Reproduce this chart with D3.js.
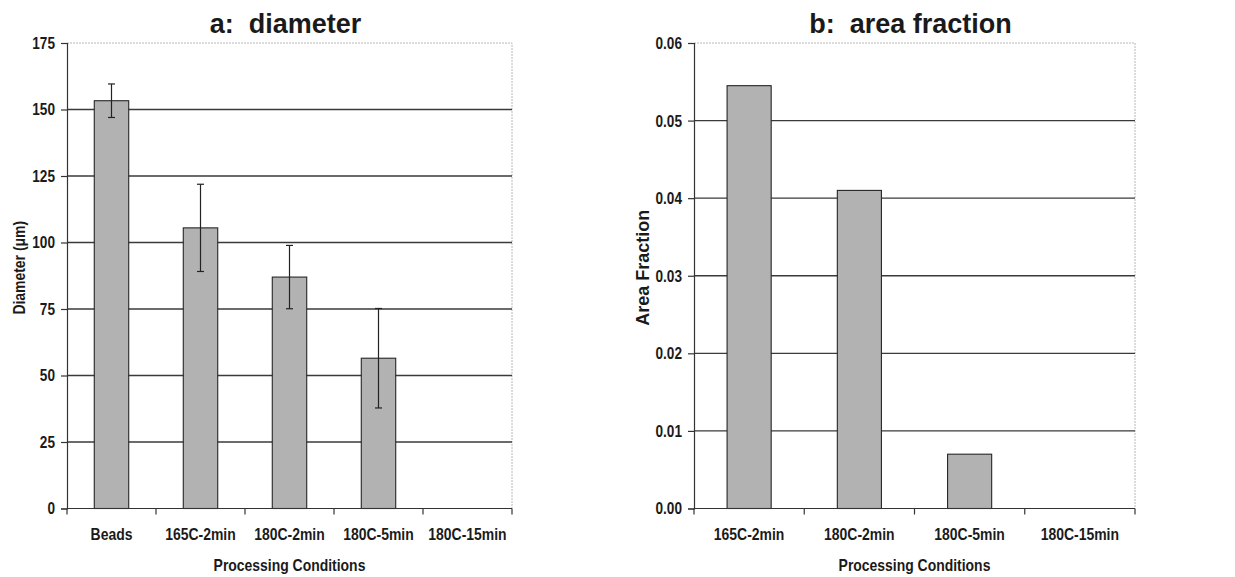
<!DOCTYPE html>
<html>
<head>
<meta charset="utf-8">
<script src="https://cdn.jsdelivr.net/npm/d3@7"></script>
<style>
  html, body { margin: 0; padding: 0; background: #ffffff; }
  svg { display: block; }
  .lab { font-family: "Liberation Sans", Arial, sans-serif; font-weight: bold; fill: #1a1a1a; }
  .title { font-family: "Liberation Sans", Arial, sans-serif; font-weight: bold; fill: #1a1a1a; white-space: pre; }
</style>
</head>
<body>
<svg id="chart" width="1235" height="577"></svg>
<script>
// Panel a: mean diameter per processing condition (with standard deviation)
const diameterCategories = ["Beads", "165C-2min", "180C-2min", "180C-5min", "180C-15min"];
const diameterMeans = [153.3, 105.5, 87.0, 56.5, 0];
const diameterErrors = [6.3, 16.4, 11.9, 18.7, 0];
const diameterTicks = [0, 25, 50, 75, 100, 125, 150, 175];

// Panel b: area fraction per processing condition
const areaCategories = ["165C-2min", "180C-2min", "180C-5min", "180C-15min"];
const areaFractions = [0.0545, 0.041, 0.007, 0];
const areaTicks = [0, 0.01, 0.02, 0.03, 0.04, 0.05, 0.06];

const svg = d3.select("#chart");

// squeeze text horizontally to mimic a condensed bold face
function condense(sel, factor) {
  sel.each(function () {
    const len = this.getComputedTextLength();
    d3.select(this)
      .attr("textLength", len * factor)
      .attr("lengthAdjust", "spacingAndGlyphs");
  });
}

function drawPanel(opts) {
  const { left, right, top, bottom, categories, values, errors, ticks, yMax,
          tickFormat, title, yLabel, barRatio, yLabelX, yLabelSize, yLabelSqueeze, titleDx } = opts;

  const g = svg.append("g");
  const x = d3.scaleBand().domain(categories).range([left, right]).padding(0);
  const y = d3.scaleLinear().domain([0, yMax]).range([bottom, top]);

  // light frame on top and right of the plot area
  g.append("path")
    .attr("d", `M${left},${top}H${right}V${bottom}`)
    .attr("fill", "none")
    .attr("stroke", "#b8b8b8")
    .attr("stroke-width", 1)
    .attr("stroke-dasharray", "2,1");

  // horizontal gridlines
  g.append("g")
    .selectAll("line")
    .data(ticks.filter(t => t > 0 && t < yMax))
    .join("line")
    .attr("x1", left).attr("x2", right)
    .attr("y1", d => y(d)).attr("y2", d => y(d))
    .attr("stroke", "#3a3a3a")
    .attr("stroke-width", 1.3);

  // bars
  const bw = x.bandwidth() * barRatio;
  g.append("g")
    .selectAll("rect")
    .data(categories.map((c, i) => ({ c, v: values[i] })).filter(d => d.v > 0))
    .join("rect")
    .attr("x", d => x(d.c) + (x.bandwidth() - bw) / 2)
    .attr("width", bw)
    .attr("y", d => y(d.v))
    .attr("height", d => y(0) - y(d.v))
    .attr("fill", "#b2b2b2")
    .attr("stroke", "#262626")
    .attr("stroke-width", 1.1);

  // error bars
  if (errors) {
    const eb = g.append("g")
      .selectAll("g")
      .data(categories.map((c, i) => ({ c, v: values[i], e: errors[i] })).filter(d => d.e > 0))
      .join("g")
      .attr("stroke", "#222")
      .attr("stroke-width", 1.2);
    eb.append("line")
      .attr("x1", d => x(d.c) + x.bandwidth() / 2)
      .attr("x2", d => x(d.c) + x.bandwidth() / 2)
      .attr("y1", d => y(d.v + d.e))
      .attr("y2", d => y(d.v - d.e));
    [1, -1].forEach(s => {
      eb.append("line")
        .attr("x1", d => x(d.c) + x.bandwidth() / 2 - 3.5)
        .attr("x2", d => x(d.c) + x.bandwidth() / 2 + 3.5)
        .attr("y1", d => y(d.v + s * d.e))
        .attr("y2", d => y(d.v + s * d.e));
    });
  }

  // y axis
  const yAxis = d3.axisLeft(y).tickValues(ticks).tickFormat(tickFormat).tickSize(6).tickPadding(6);
  const ya = g.append("g").attr("transform", `translate(${left},0)`).call(yAxis);
  ya.attr("font-family", null).attr("font-size", null);
  ya.select(".domain").attr("stroke", "#333").attr("stroke-width", 1.2);
  ya.selectAll(".tick line").attr("stroke", "#333").attr("stroke-width", 1.2);
  ya.selectAll(".tick text")
    .attr("class", "lab")
    .style("font-size", "17px")
    .call(condense, 0.8);

  // x axis with ticks between categories
  const xa = g.append("g").attr("transform", `translate(0,${bottom})`);
  xa.append("line")
    .attr("x1", left).attr("x2", right)
    .attr("stroke", "#333").attr("stroke-width", 1.2);
  const bounds = categories.map(c => x(c)).concat([right]);
  xa.selectAll("line.tk")
    .data(bounds)
    .join("line")
    .attr("class", "tk")
    .attr("x1", d => d).attr("x2", d => d)
    .attr("y1", 0).attr("y2", 6)
    .attr("stroke", "#333").attr("stroke-width", 1.2);
  xa.selectAll("text.cat")
    .data(categories)
    .join("text")
    .attr("class", "lab cat")
    .attr("x", d => x(d) + x.bandwidth() / 2)
    .attr("y", 31)
    .attr("text-anchor", "middle")
    .style("font-size", "17px")
    .text(d => d)
    .call(condense, 0.82);

  // x axis title
  g.append("text")
    .attr("class", "lab")
    .attr("x", (left + right) / 2)
    .attr("y", bottom + 62)
    .attr("text-anchor", "middle")
    .style("font-size", "17px")
    .text("Processing Conditions")
    .call(condense, 0.82);

  // y axis title
  g.append("text")
    .attr("class", "lab")
    .attr("transform", `translate(${yLabelX},${(top + bottom) / 2 - 8}) rotate(-90)`)
    .attr("text-anchor", "middle")
    .attr("dy", "0.35em")
    .style("font-size", yLabelSize)
    .text(yLabel)
    .call(condense, yLabelSqueeze);

  // panel title
  g.append("text")
    .attr("class", "title")
    .attr("x", (left + right) / 2 + titleDx)
    .attr("y", 33)
    .attr("text-anchor", "middle")
    .style("font-size", "27px")
    .text(title);
}

drawPanel({
  left: 67, right: 512, top: 43, bottom: 508.5,
  categories: diameterCategories, values: diameterMeans, errors: diameterErrors,
  ticks: diameterTicks, yMax: 175, tickFormat: d3.format("d"),
  title: "a:  diameter", yLabel: "Diameter (\u03bcm)", barRatio: 0.387,
  yLabelX: 19, yLabelSize: "17px", yLabelSqueeze: 0.82, titleDx: -4
});

drawPanel({
  left: 694, right: 1135, top: 43, bottom: 508.5,
  categories: areaCategories, values: areaFractions, errors: null,
  ticks: areaTicks, yMax: 0.06, tickFormat: d3.format(".2f"),
  title: "b:  area fraction", yLabel: "Area Fraction", barRatio: 0.40,
  yLabelX: 643, yLabelSize: "18px", yLabelSqueeze: 1.0, titleDx: -4
});
</script>
</body>
</html>
